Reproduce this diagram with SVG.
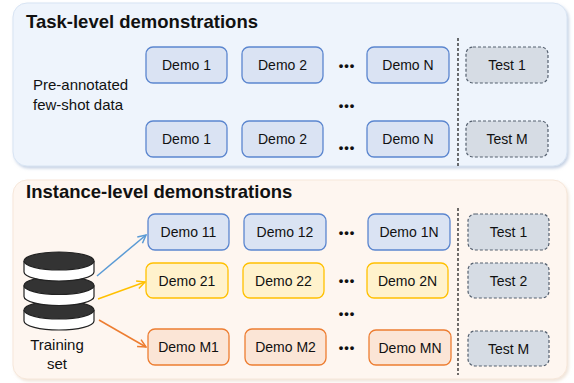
<svg xmlns="http://www.w3.org/2000/svg" width="574" height="383" viewBox="0 0 574 383">
<defs>
<filter id="sh" x="-5%" y="-5%" width="110%" height="115%">
<feDropShadow dx="1.5" dy="2" stdDeviation="1.5" flood-color="#9FB3D1" flood-opacity="0.6"/>
</filter>
<filter id="sh2" x="-5%" y="-5%" width="110%" height="115%">
<feDropShadow dx="1.5" dy="2" stdDeviation="1.5" flood-color="#E6D3C3" flood-opacity="0.6"/>
</filter>
<marker id="aB" viewBox="0 0 10 10" refX="9" refY="5" markerWidth="10" markerHeight="10" markerUnits="userSpaceOnUse" orient="auto"><path d="M1,1 L9,5 L1,9" fill="none" stroke="#5B9BD5" stroke-width="1.5"/></marker>
<marker id="aY" viewBox="0 0 10 10" refX="9" refY="5" markerWidth="10" markerHeight="10" markerUnits="userSpaceOnUse" orient="auto"><path d="M1,1 L9,5 L1,9" fill="none" stroke="#FFC000" stroke-width="1.5"/></marker>
<marker id="aO" viewBox="0 0 10 10" refX="9" refY="5" markerWidth="10" markerHeight="10" markerUnits="userSpaceOnUse" orient="auto"><path d="M1,1 L9,5 L1,9" fill="none" stroke="#ED7D31" stroke-width="1.5"/></marker>
</defs>
<style>
text{font-family:"Liberation Sans",Arial,sans-serif;fill:#111}
.t{font-size:14px;text-anchor:middle}
.title{font-size:18.5px;font-weight:bold}
.lbl{font-size:15px}
.dots{font-size:13px;font-weight:bold;text-anchor:middle;letter-spacing:1px}
.b{fill:#DAE3F3;stroke:#5B86CF;stroke-width:1.3}
.y{fill:#FFF2CC;stroke:#FFC000;stroke-width:1.3}
.o{fill:#FBE5D6;stroke:#ED7D31;stroke-width:1.3}
.ts{fill:#D6DCE4;stroke:#55606F;stroke-width:1.2;stroke-dasharray:3 2}
.sep{stroke:#111;stroke-width:1.2;stroke-dasharray:3 2}
.disk{fill:#fff;stroke:#222;stroke-width:1.2}
.top{fill:#333;stroke:#222;stroke-width:1.2}
</style>

<g id="panel-task">
<rect x="13" y="3" width="554" height="163" rx="14" fill="#EEF4FC" stroke="#D8E4F3" stroke-width="1" filter="url(#sh)"/>
<text class="title" x="26" y="28">Task-level demonstrations</text>
<text class="lbl" x="33" y="90">Pre-annotated</text>
<text class="lbl" x="33" y="110">few-shot data</text>
<line class="sep" x1="458" y1="38" x2="458" y2="167"/>
</g>

<g id="panel-instance">
<rect x="13" y="180" width="554" height="199" rx="14" fill="#FEF6F0" stroke="#F6E7DA" stroke-width="1" filter="url(#sh2)"/>
<text class="title" x="26" y="198">Instance-level demonstrations</text>
<line class="sep" x1="458" y1="208" x2="458" y2="375"/>
</g>

<g id="task-row1">
<g id="t-demo1-r1"><rect class="b" x="146" y="47" width="81" height="36" rx="7"/><text class="t" x="186.5" y="70">Demo 1</text></g>
<g id="t-demo2-r1"><rect class="b" x="242" y="47" width="81" height="36" rx="7"/><text class="t" x="282.5" y="70">Demo 2</text></g>
<text class="dots" x="347" y="69.5">•••</text>
<g id="t-demoN-r1"><rect class="b" x="367" y="47" width="82" height="36" rx="7"/><text class="t" x="408" y="70">Demo N</text></g>
<g id="t-test1"><rect class="ts" x="466" y="47" width="82" height="36" rx="7"/><text class="t" x="507" y="70">Test 1</text></g>
</g>
<text class="dots" x="347" y="109.5">•••</text>
<g id="task-row2">
<g id="t-demo1-r2"><rect class="b" x="146" y="121" width="81" height="36" rx="7"/><text class="t" x="186.5" y="144">Demo 1</text></g>
<g id="t-demo2-r2"><rect class="b" x="242" y="121" width="81" height="36" rx="7"/><text class="t" x="282.5" y="144">Demo 2</text></g>
<text class="dots" x="347" y="151.5">•••</text>
<g id="t-demoN-r2"><rect class="b" x="367" y="121" width="82" height="36" rx="7"/><text class="t" x="408" y="144">Demo N</text></g>
<g id="t-testM"><rect class="ts" x="466" y="121" width="82" height="36" rx="7"/><text class="t" x="507" y="144">Test M</text></g>
</g>

<g id="training-set">
<g id="disk3"><path class="disk" d="M24,310 L24,321 A35,9 0 0 0 94,321 L94,310"/><ellipse class="top" cx="59" cy="310" rx="35" ry="9"/></g>
<g id="disk2"><path class="disk" d="M24,285.5 L24,296.5 A35,9 0 0 0 94,296.5 L94,285.5"/><ellipse class="top" cx="59" cy="285.5" rx="35" ry="9"/></g>
<g id="disk1"><path class="disk" d="M24,261 L24,272 A35,9 0 0 0 94,272 L94,261"/><ellipse class="top" cx="59" cy="261" rx="35" ry="9"/></g>
<text class="lbl" x="57" y="350" text-anchor="middle">Training</text>
<text class="lbl" x="57" y="369" text-anchor="middle">set</text>
</g>

<g id="connectors" fill="none" stroke-width="1.5">
<line x1="97" y1="276" x2="146" y2="235" stroke="#5B9BD5" marker-end="url(#aB)"/>
<line x1="98" y1="299" x2="145" y2="282" stroke="#FFC000" marker-end="url(#aY)"/>
<line x1="99" y1="320" x2="146" y2="347" stroke="#ED7D31" marker-end="url(#aO)"/>
</g>

<g id="inst-row1">
<g id="demo11"><rect class="b" x="148" y="214" width="81" height="36" rx="7"/><text class="t" x="188.5" y="237">Demo 11</text></g>
<g id="demo12"><rect class="b" x="244" y="214" width="82" height="36" rx="7"/><text class="t" x="285" y="237">Demo 12</text></g>
<text class="dots" x="347" y="236.5">•••</text>
<g id="demo1N"><rect class="b" x="368" y="214" width="82" height="36" rx="7"/><text class="t" x="409" y="237">Demo 1N</text></g>
<g id="i-test1"><rect class="ts" x="468" y="214" width="81" height="36" rx="7"/><text class="t" x="508.5" y="237">Test 1</text></g>
</g>
<g id="inst-row2">
<g id="demo21"><rect class="y" x="146" y="263" width="82" height="35" rx="7"/><text class="t" x="187" y="285.5">Demo 21</text></g>
<g id="demo22"><rect class="y" x="243" y="263" width="81" height="35" rx="7"/><text class="t" x="283.5" y="285.5">Demo 22</text></g>
<text class="dots" x="347" y="285">•••</text>
<g id="demo2N"><rect class="y" x="367" y="263" width="81" height="35" rx="7"/><text class="t" x="407.5" y="285.5">Demo 2N</text></g>
<g id="i-test2"><rect class="ts" x="468" y="263" width="81" height="35" rx="7"/><text class="t" x="508.5" y="285.5">Test 2</text></g>
</g>
<text class="dots" x="347" y="317.5">•••</text>
<g id="inst-row3">
<g id="demoM1"><rect class="o" x="148" y="329" width="81" height="36" rx="7"/><text class="t" x="188.5" y="352">Demo M1</text></g>
<g id="demoM2"><rect class="o" x="245" y="329" width="81" height="36" rx="7"/><text class="t" x="285.5" y="352">Demo M2</text></g>
<text class="dots" x="347" y="351.5">•••</text>
<g id="demoMN"><rect class="o" x="369" y="330" width="82" height="35" rx="7"/><text class="t" x="410" y="352.5">Demo MN</text></g>
<g id="i-testM"><rect class="ts" x="468" y="331" width="81" height="35" rx="7"/><text class="t" x="508.5" y="353.5">Test M</text></g>
</g>
</svg>
